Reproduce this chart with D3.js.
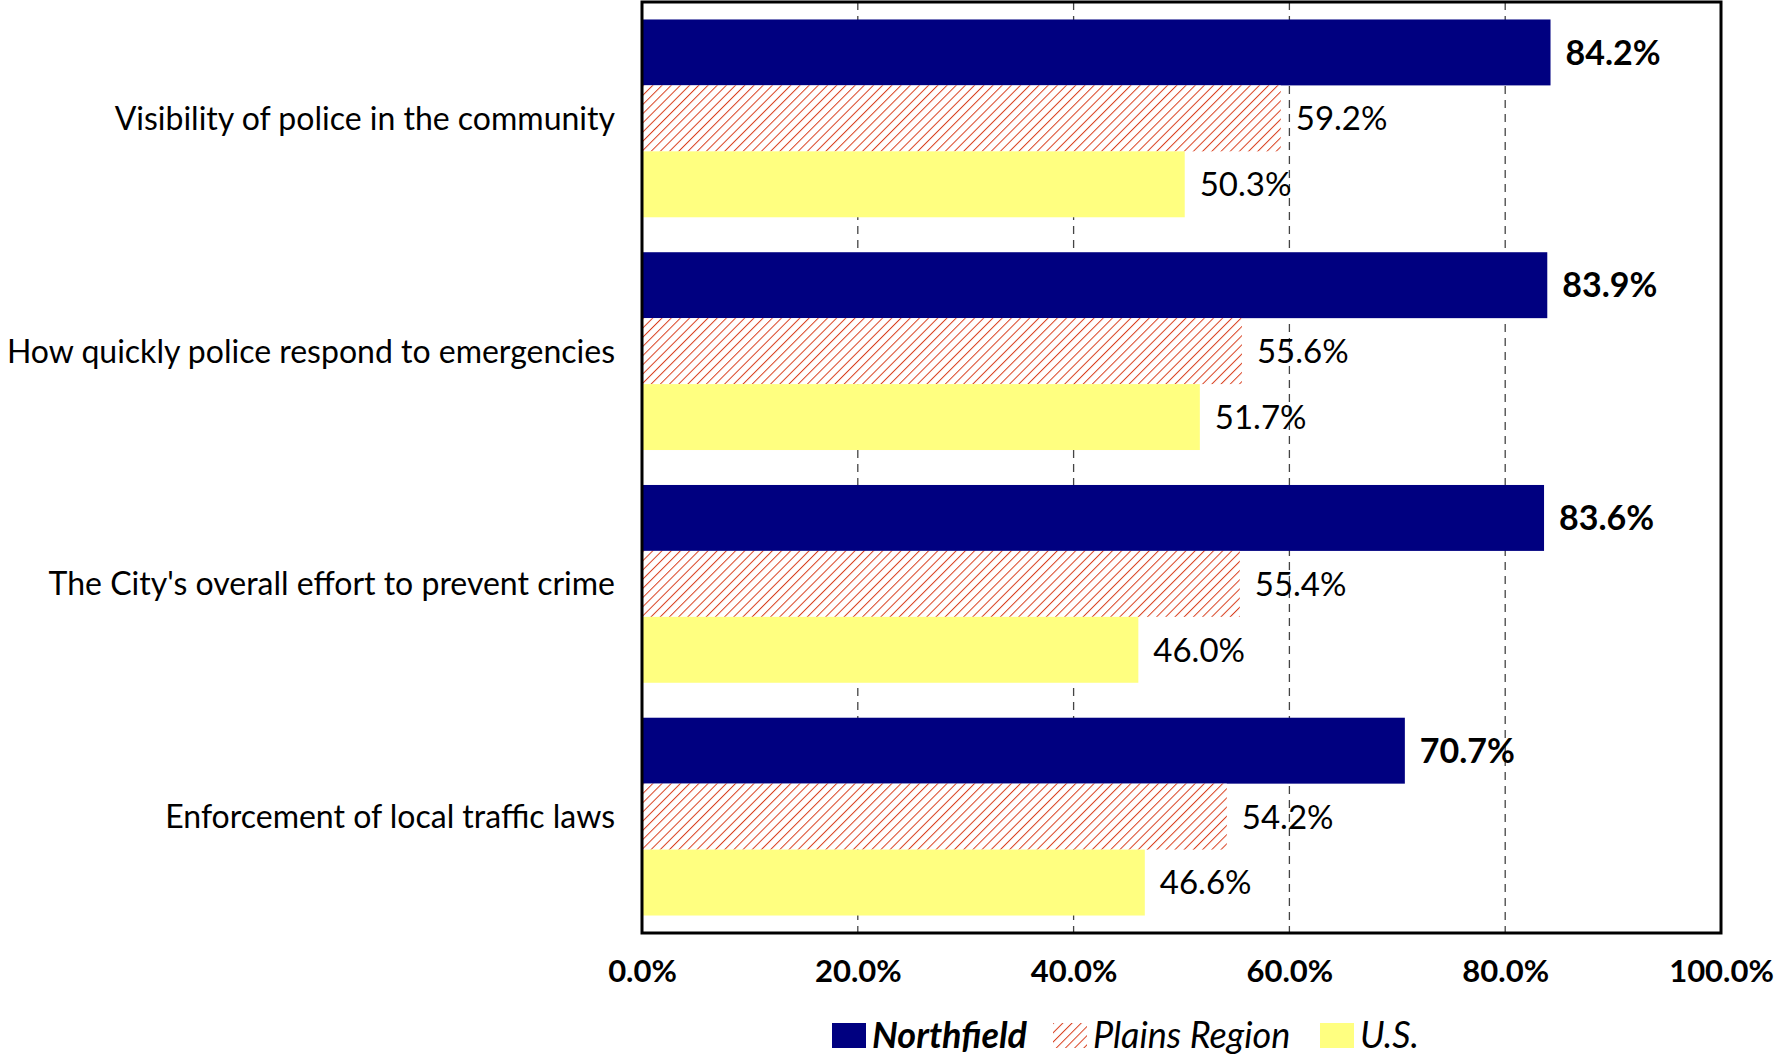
<!DOCTYPE html>
<html>
<head>
<meta charset="utf-8">
<script src="https://cdn.jsdelivr.net/npm/d3@7"></script>
<style>
  html, body { margin: 0; padding: 0; background: #fff; }
  svg { display: block; }
  text { font-family: Lato, "Open Sans", sans-serif; fill: #000; }
</style>
</head>
<body>
<svg id="chart" width="1775" height="1055"></svg>
<script>
// Survey items (top to bottom)
const categories = [
  "Visibility of police in the community",
  "How quickly police respond to emergencies",
  "The City's overall effort to prevent crime",
  "Enforcement of local traffic laws"
];
const seriesNames = ["Northfield", "Plains Region", "U.S."];
const northfield = [84.2, 83.9, 83.6, 70.7];
const plainsRegion = [59.2, 55.6, 55.4, 54.2];
const us = [50.3, 51.7, 46.0, 46.6];
const xTicks = [0, 20, 40, 60, 80, 100];

const seriesValues = [northfield, plainsRegion, us];
const rows = categories.map((c, i) => ({
  category: c,
  values: seriesNames.map((s, j) => ({ series: s, value: seriesValues[j][i] }))
}));

const svg = d3.select("#chart");
const plot = { left: 642, right: 1721, top: 2, bottom: 933 };

const x = d3.scaleLinear().domain([0, 100]).range([plot.left, plot.right]);
const y = d3.scaleBand().domain(categories).range([plot.top, plot.bottom]);
const ySub = d3.scaleBand().domain(seriesNames)
  .range([0, y.bandwidth()]).paddingInner(0).paddingOuter(0.265);

// hatch pattern for the regional series
const defs = svg.append("defs");
const pat = defs.append("pattern")
  .attr("id", "hatch")
  .attr("patternUnits", "userSpaceOnUse")
  .attr("width", 6.5).attr("height", 6.5)
  .attr("patternTransform", "rotate(45)");
pat.append("rect").attr("width", 6.5).attr("height", 6.5).attr("fill", "#fff");
pat.append("line")
  .attr("x1", 0).attr("y1", 0).attr("x2", 0).attr("y2", 6.5)
  .attr("stroke", "#d9401f").attr("stroke-width", 2);

const fills = {
  "Northfield": "#000080",
  "Plains Region": "url(#hatch)",
  "U.S.": "#ffff80"
};

// dashed vertical gridlines
svg.append("g")
  .selectAll("line")
  .data(xTicks.filter(t => t > 0 && t < 100))
  .join("line")
  .attr("x1", d => x(d)).attr("x2", d => x(d))
  .attr("y1", plot.top).attr("y2", plot.bottom)
  .attr("stroke", "#444").attr("stroke-width", 1.3)
  .attr("stroke-dasharray", "8,6");

// bars
const groups = svg.append("g").selectAll("g")
  .data(rows).join("g")
  .attr("transform", d => `translate(0,${y(d.category)})`);

groups.selectAll("rect")
  .data(d => d.values)
  .join("rect")
  .attr("x", x(0))
  .attr("y", d => ySub(d.series))
  .attr("width", d => x(d.value) - x(0))
  .attr("height", ySub.bandwidth())
  .attr("fill", d => fills[d.series]);

// value labels
groups.selectAll("text.val")
  .data(d => d.values)
  .join("text")
  .attr("class", "val")
  .attr("x", d => x(d.value) + 15)
  .attr("y", d => ySub(d.series) + ySub.bandwidth() / 2)
  .attr("dy", "0.36em")
  .attr("font-size", d => d.series === "Northfield" ? 34 : 33)
  .attr("font-weight", d => d.series === "Northfield" ? 700 : 400)
  .text(d => d.value.toFixed(1) + "%");

// category labels
svg.append("g").selectAll("text")
  .data(categories).join("text")
  .attr("x", 615)
  .attr("y", d => y(d) + y.bandwidth() / 2)
  .attr("dy", "0.36em")
  .attr("text-anchor", "end")
  .attr("font-size", 32)
  .text(d => d);

// frame
svg.append("rect")
  .attr("x", plot.left).attr("y", plot.top)
  .attr("width", plot.right - plot.left).attr("height", plot.bottom - plot.top)
  .attr("fill", "none").attr("stroke", "#000").attr("stroke-width", 3);

// x axis labels
const xAxis = d3.axisBottom(x).tickValues(xTicks)
  .tickFormat(d => d.toFixed(1) + "%").tickSize(0).tickPadding(27);
const gx = svg.append("g").attr("transform", `translate(0,${plot.bottom})`).call(xAxis);
gx.select(".domain").remove();
gx.selectAll("text")
  .attr("font-family", "Lato, 'Open Sans', sans-serif")
  .attr("font-size", 31).attr("font-weight", 700).attr("fill", "#000");

// legend
const legendItems = [
  { name: "Northfield", x: 832, bold: true },
  { name: "Plains Region", x: 1053, bold: false },
  { name: "U.S.", x: 1320, bold: false }
];
const lg = svg.append("g").selectAll("g").data(legendItems).join("g")
  .attr("transform", d => `translate(${d.x},1023)`);
lg.append("rect")
  .attr("width", 34).attr("height", 25)
  .attr("fill", d => fills[d.name]);
lg.append("text")
  .attr("x", 40).attr("y", 12.5).attr("dy", "0.36em")
  .attr("font-size", 36).attr("font-style", "italic")
  .attr("font-weight", d => d.bold ? 700 : 400)
  .text(d => d.name);
</script>
</body>
</html>
